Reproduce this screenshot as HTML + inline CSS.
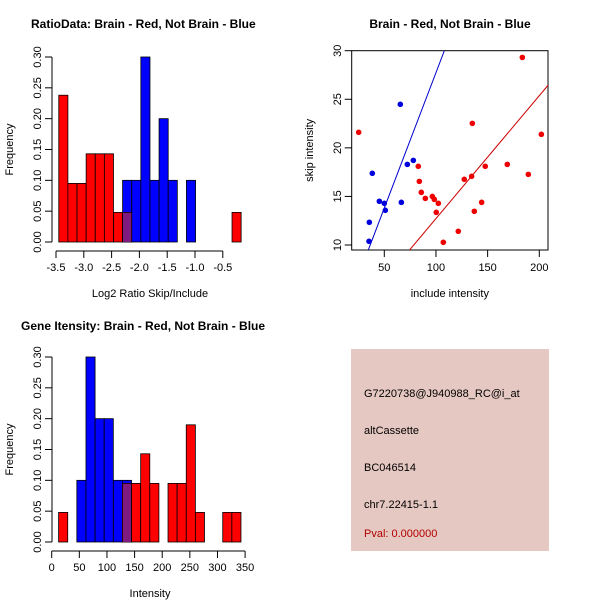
<!DOCTYPE html>
<html><head><meta charset="utf-8"><style>
body{margin:0;background:#fff}
svg{display:block;font-family:"Liberation Sans",Arial,sans-serif}
</style></head><body>
<svg id="c" width="600" height="600" viewBox="0 0 600 600">
<rect width="600" height="600" fill="#fff"/>
<text x="31" y="28" font-size="12" font-weight="bold">RatioData: Brain - Red, Not Brain - Blue</text>
<text x="450" y="28" font-size="12" font-weight="bold" text-anchor="middle">Brain - Red, Not Brain - Blue</text>
<text x="21" y="330" font-size="12" font-weight="bold">Gene Itensity: Brain - Red, Not Brain - Blue</text>
<g id="p1"></g>
<g id="p2"></g>
<g id="p3"></g>
<g>
<rect x="351" y="349" width="198" height="202" fill="#e6c8c2"/>
<g font-size="11" fill="#000">
<text x="364" y="397">G7220738@J940988_RC@i_at</text>
<text x="364" y="434">altCassette</text>
<text x="364" y="471">BC046514</text>
<text x="364" y="508">chr7.22415-1.1</text>
<text x="364" y="537" fill="#b00000">Pval: 0.000000</text>
</g></g>
</svg>
<script>
// Ratio histogram data (bins share a common grid)
const ratioBinStart = -3.45;
const ratioBinWidth = 0.164;
const ratioRed = [0.238,0.095,0.095,0.143,0.143,0.143,0.048,0.048,0,0,0,0,0,0,0,0,0,0,0,0.048];
const ratioBlue = [0,0,0,0,0,0,0,0.1,0.1,0.3,0.1,0.2,0.1,0,0.1,0,0,0,0,0];
const ratioXTicks = [-3.5,-3.0,-2.5,-2.0,-1.5,-1.0,-0.5];
const freqTicks = [0,0.05,0.10,0.15,0.20,0.25,0.30];
// Intensity histogram data
const intBinStart = 12.5;
const intBinWidth = 16.5;
const intRed = [0.048,0,0,0,0,0,0,0.095,0.095,0.143,0.095,0,0.095,0.095,0.19,0.048,0,0,0.048,0.048];
const intBlue = [0,0,0.1,0.3,0.2,0.2,0.1,0.1,0,0,0,0,0,0,0,0,0,0,0,0];
const intXTicks = [0,50,100,150,200,250,300,350];
// Scatter data
const blueX = [35.2,35.5,38.4,45.2,50,51,65.5,66.5,72.3,78.1];
const blueY = [10.38,12.34,17.38,14.5,14.29,13.57,24.48,14.39,18.3,18.71];
const redX = [25.2,82.9,83.9,85.8,89.7,96.5,98.4,100.3,102.3,107.1,121.6,127.4,134.5,135.2,137.1,144.2,147.7,169,183.6,189.4,202];
const redY = [21.6,18.1,16.55,15.42,14.8,15.0,14.7,13.36,14.29,10.28,11.41,16.76,17.07,22.52,13.47,14.39,18.1,18.3,29.31,17.27,21.39];
const blueFit = [-0.13,0.2787];
const redFit = [0.07,0.1265];
const scXTicks = [50,100,150,200];
const scYTicks = [10,15,20,25,30];

const NS="http://www.w3.org/2000/svg";
function mk(parent,tag,attrs,txt){const e=document.createElementNS(NS,tag);for(const k in attrs)e.setAttribute(k,attrs[k]);if(txt!==undefined)e.textContent=txt;parent.appendChild(e);return e;}

function hist(g,o){
  const sx=v=>o.x0+(v-o.v0)*o.kx, sy=v=>o.y0-v*o.ky;
  const n=o.red.length;
  for(let i=0;i<n;i++){
    const a=sx(o.start+i*o.w), b=sx(o.start+(i+1)*o.w);
    if(o.blue[i]>0){const r=mk(g,'rect',{x:a,y:sy(o.blue[i]),width:b-a,height:o.y0-sy(o.blue[i]),fill:'#0000ff',stroke:'#000','stroke-width':0.8});
      
      }
    if(o.red[i]>0){const m=Math.min(o.red[i],o.blue[i]);
      const r=mk(g,'rect',{x:a,y:sy(o.red[i]),width:b-a,height:o.y0-sy(o.red[i]),fill:'#ff0000',stroke:'#000','stroke-width':0.8});
      
      
      if(m>0){const p=mk(g,'rect',{x:a+0.5,y:sy(m)+0.5,width:b-a-1,height:o.y0-sy(m)-0.5,fill:'#7f1a80'});
        
        }}
  }
  // x axis
  const xa=mk(g,'g',{stroke:'#000','stroke-width':1});
  
  
  const t=o.xticks;
  mk(xa,'line',{x1:sx(t[0]),x2:sx(t[t.length-1]),y1:o.ay,y2:o.ay});
  t.forEach(v=>{mk(xa,'line',{x1:sx(v),x2:sx(v),y1:o.ay,y2:o.ay+7});
    const l=mk(g,'text',{x:sx(v),y:o.ay+20,'font-size':11,'text-anchor':'middle'},o.fmt(v));
    
    });
  // y axis
  const ya=mk(g,'g',{stroke:'#000','stroke-width':1});
  
  
  mk(ya,'line',{x1:52,x2:52,y1:sy(0),y2:sy(0.30)});
  freqTicks.forEach(v=>{mk(ya,'line',{x1:45,x2:52,y1:sy(v),y2:sy(v)});
    const l=mk(g,'text',{x:0,y:0,'font-size':11,'text-anchor':'middle',transform:`translate(41,${sy(v)}) rotate(-90)`},v.toFixed(2));
    
    });
  const yl=mk(g,'text',{x:0,y:0,'font-size':11,'text-anchor':'middle',transform:`translate(13,${(sy(0)+sy(0.3))/2}) rotate(-90)`},'Frequency');
  
  
  const xl=mk(g,'text',{x:150,y:o.ay+46,'font-size':11,'text-anchor':'middle'},o.xlabel);
  
  
}
hist(document.getElementById('p1'),{x0:56,v0:-3.5,kx:55.6,y0:242,ky:616.7,start:ratioBinStart,w:ratioBinWidth,red:ratioRed,blue:ratioBlue,xticks:ratioXTicks,ay:251,fmt:v=>v.toFixed(1),xlabel:'Log2 Ratio Skip/Include'});
hist(document.getElementById('p3'),{x0:51.7,v0:0,kx:0.5526,y0:542,ky:616.7,start:intBinStart,w:intBinWidth,red:intRed,blue:intBlue,xticks:intXTicks,ay:551,fmt:v=>String(v),xlabel:'Intensity'});

// scatter
(function(){
  const g=document.getElementById('p2');
  const L=351.7,R=548,T=50.7,B=250;
  const sx=v=>384.3+(v-50)*1.0333, sy=v=>245-(v-10)*9.715;
  const box=mk(g,'rect',{x:L,y:T,width:R-L,height:B-T,fill:'none',stroke:'#000'});
  
  
  mk(g,'defs',{}).innerHTML=`<clipPath id="cp"><rect x="${L}" y="${T}" width="${R-L}" height="${B-T}"/></clipPath>`;
  const lines=mk(g,'g',{'clip-path':'url(#cp)'});
  [[blueFit,'#0000cc','blue-fit-line'],[redFit,'#cc0000','red-fit-line']].forEach(([f,c,n])=>{
    const x1=0,x2=260;
    const l=mk(lines,'line',{x1:sx(x1),y1:sy(f[0]+f[1]*x1),x2:sx(x2),y2:sy(f[0]+f[1]*x2),stroke:c,'stroke-width':1});
    
    });
  blueX.forEach((v,i)=>{const c=mk(g,'circle',{cx:sx(v),cy:sy(blueY[i]),r:2.8,fill:'#0000dd'});
    
    });
  redX.forEach((v,i)=>{const c=mk(g,'circle',{cx:sx(v),cy:sy(redY[i]),r:2.8,fill:'#ee0000'});
    
    });
  scXTicks.forEach(v=>{mk(g,'line',{x1:sx(v),x2:sx(v),y1:B,y2:B+7,stroke:'#000'});
    const l=mk(g,'text',{x:sx(v),y:B+21,'font-size':11,'text-anchor':'middle'},String(v));
    
    });
  scYTicks.forEach(v=>{mk(g,'line',{x1:L-7,x2:L,y1:sy(v),y2:sy(v),stroke:'#000'});
    const l=mk(g,'text',{x:0,y:0,'font-size':11,'text-anchor':'middle',transform:`translate(341,${sy(v)}) rotate(-90)`},String(v));
    
    });
  const xl=mk(g,'text',{x:(L+R)/2,y:297,'font-size':11,'text-anchor':'middle'},'include intensity');
  
  
  const yl=mk(g,'text',{x:0,y:0,'font-size':11,'text-anchor':'middle',transform:`translate(313,${(T+B)/2}) rotate(-90)`},'skip intensity');
  
  
})();
</script>
</body></html>
